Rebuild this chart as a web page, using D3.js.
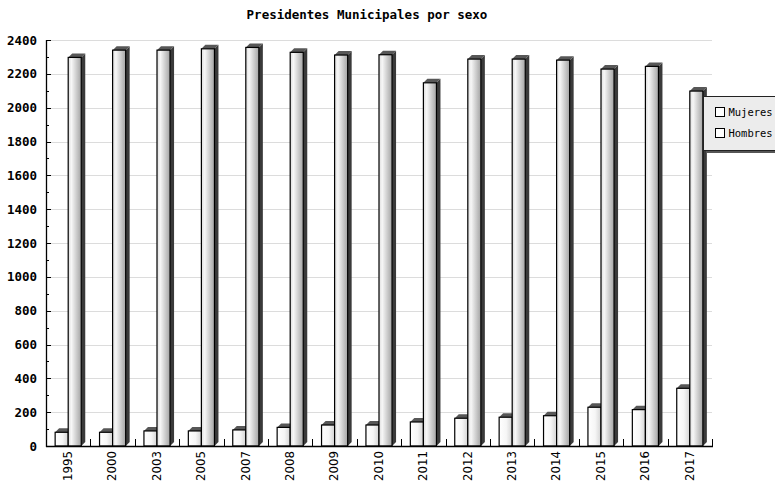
<!DOCTYPE html>
<html>
<head>
<meta charset="utf-8">
<script src="https://cdn.jsdelivr.net/npm/d3@7"></script>
<style>
  html, body { margin: 0; padding: 0; background: #fff; }
  svg { display: block; }
</style>
</head>
<body>
<svg id="chart" width="775" height="481"></svg>
<script>
const categories = ["1995","2000","2003","2005","2007","2008","2009","2010","2011","2012","2013","2014","2015","2016","2017"];
const seriesNames = ["Mujeres","Hombres"];
const mujeres = [81, 81, 89, 89, 95, 110, 124, 124, 142, 164, 170, 179, 229, 215, 341];
const hombres = [2297, 2340, 2340, 2348, 2356, 2327, 2311, 2313, 2147, 2287, 2287, 2281, 2228, 2244, 2098];
const yTicks = [0, 200, 400, 600, 800, 1000, 1200, 1400, 1600, 1800, 2000, 2200, 2400];
const yMinorTicks = [100, 300, 500, 700, 900, 1100, 1300, 1500, 1700, 1900, 2100, 2300];
const titleText = "Presidentes Municipales por sexo";

const svg = d3.select("#chart");
const pLeft = 46, pRight = 712, pTop = 40, pBottom = 446;
const depth = 4;

const x = d3.scaleBand().domain(categories).range([pLeft, pRight]).padding(0);
const xs = d3.scaleBand().domain(seriesNames).range([0, x.bandwidth()]).paddingInner(0).paddingOuter(0.7);
const y = d3.scaleLinear().domain([0, 2400]).range([pBottom, pTop]);

const defs = svg.append("defs");
const g1 = defs.append("linearGradient").attr("id", "gMuj").attr("x1", "0").attr("x2", "1").attr("y1", "0").attr("y2", "0");
g1.append("stop").attr("offset", "0%").attr("stop-color", "#ffffff");
g1.append("stop").attr("offset", "55%").attr("stop-color", "#f6f6f6");
g1.append("stop").attr("offset", "100%").attr("stop-color", "#d4d4d4");
const g2 = defs.append("linearGradient").attr("id", "gHom").attr("x1", "0").attr("x2", "1").attr("y1", "0").attr("y2", "0");
g2.append("stop").attr("offset", "0%").attr("stop-color", "#dcdcdc");
g2.append("stop").attr("offset", "25%").attr("stop-color", "#f7f7f7");
g2.append("stop").attr("offset", "100%").attr("stop-color", "#a4a4a4");

// gridlines
svg.append("g").selectAll("line").data(yTicks.filter(d => d > 0)).join("line")
  .attr("x1", pLeft).attr("x2", pRight)
  .attr("y1", d => Math.round(y(d)) + 0.5).attr("y2", d => Math.round(y(d)) + 0.5)
  .attr("stroke", "#dcdcdc").attr("stroke-width", 1);

// bars
const data = categories.map((c, i) => ({cat: c, vals: [{s: "Mujeres", v: mujeres[i]}, {s: "Hombres", v: hombres[i]}]}));
const groups = svg.append("g").selectAll("g").data(data).join("g")
  .attr("transform", d => `translate(${x(d.cat)},0)`);

groups.each(function(d) {
  const gg = d3.select(this);
  d.vals.forEach(b => {
    const x0 = xs(b.s), w = xs.bandwidth();
    const yt = y(b.v);
    gg.append("polygon")
      .attr("points", [[x0 + w, yt], [x0 + w + depth, yt - depth], [x0 + w + depth, pBottom - depth], [x0 + w, pBottom]].map(p => p.join(",")).join(" "))
      .attr("fill", "#3a3a3a");
    gg.append("polygon")
      .attr("points", [[x0, yt], [x0 + depth, yt - depth], [x0 + w + depth, yt - depth], [x0 + w, yt]].map(p => p.join(",")).join(" "))
      .attr("fill", "#575757");
    gg.append("rect")
      .attr("x", x0).attr("y", yt).attr("width", w).attr("height", pBottom - yt)
      .attr("fill", b.s === "Mujeres" ? "url(#gMuj)" : "url(#gHom)")
      .attr("stroke", "#000").attr("stroke-width", 1.2);
  });
});

// axes
const axisG = svg.append("g");
axisG.append("line").attr("x1", pLeft + 0.5).attr("x2", pLeft + 0.5).attr("y1", pTop).attr("y2", pBottom + 1).attr("stroke", "#000").attr("stroke-width", 1.3);
axisG.append("line").attr("x1", pLeft).attr("x2", pRight + 1).attr("y1", pBottom + 0.5).attr("y2", pBottom + 0.5).attr("stroke", "#000").attr("stroke-width", 1.3);

axisG.selectAll("line.maj").data(yTicks).join("line").attr("class", "maj")
  .attr("x1", pLeft).attr("x2", pLeft + 5)
  .attr("y1", d => Math.round(y(d)) + 0.5).attr("y2", d => Math.round(y(d)) + 0.5)
  .attr("stroke", "#000");
axisG.selectAll("line.min").data(yMinorTicks).join("line").attr("class", "min")
  .attr("x1", pLeft).attr("x2", pLeft + 3)
  .attr("y1", d => Math.round(y(d)) + 0.5).attr("y2", d => Math.round(y(d)) + 0.5)
  .attr("stroke", "#000");
axisG.selectAll("text.yl").data(yTicks).join("text").attr("class", "yl")
  .attr("x", 37).attr("y", d => y(d)).attr("dy", "0.36em")
  .attr("text-anchor", "end")
  .attr("font-family", "DejaVu Sans Mono").attr("font-weight", "bold").attr("font-size", "12.5px")
  .attr("fill", "#000")
  .text(d => d);

const bounds = categories.map(c => x(c) + x.bandwidth());
axisG.selectAll("line.xt").data(bounds).join("line").attr("class", "xt")
  .attr("x1", d => Math.round(d) + 0.5).attr("x2", d => Math.round(d) + 0.5)
  .attr("y1", pBottom).attr("y2", pBottom - 7)
  .attr("stroke", "#000");
axisG.selectAll("text.xl").data(categories).join("text").attr("class", "xl")
  .attr("transform", d => `translate(${x(d) + x.bandwidth() / 2 - 0.5},${pBottom + 5}) rotate(-90)`)
  .attr("dy", "0.36em")
  .attr("text-anchor", "end")
  .attr("font-family", "DejaVu Sans").attr("font-size", "11.8px")
  .attr("fill", "#000")
  .text(d => d);

svg.append("text").attr("x", 367).attr("y", 19).attr("text-anchor", "middle")
  .attr("font-family", "DejaVu Sans Mono").attr("font-weight", "bold").attr("font-size", "12.5px")
  .attr("fill", "#000").text(titleText);

const lg = svg.append("g");
lg.append("rect").attr("x", 706).attr("y", 99).attr("width", 90).attr("height", 54).attr("fill", "#555");
lg.append("rect").attr("x", 703.5).attr("y", 96.5).attr("width", 90).attr("height", 54).attr("fill", "#ececec").attr("stroke", "#222");
seriesNames.forEach((s, i) => {
  const yy = 107.5 + i * 21;
  lg.append("rect").attr("x", 715.5).attr("y", yy).attr("width", 9).attr("height", 9)
    .attr("fill", "#fff").attr("stroke", "#000");
  lg.append("text").attr("x", 728.5).attr("y", yy + 4.5).attr("dy", "0.36em")
    .attr("font-family", "DejaVu Sans Mono").attr("font-size", "11px").attr("fill", "#000")
    .attr("textLength", s.length * 6.3).attr("lengthAdjust", "spacingAndGlyphs")
    .text(s);
});
</script>
</body>
</html>
